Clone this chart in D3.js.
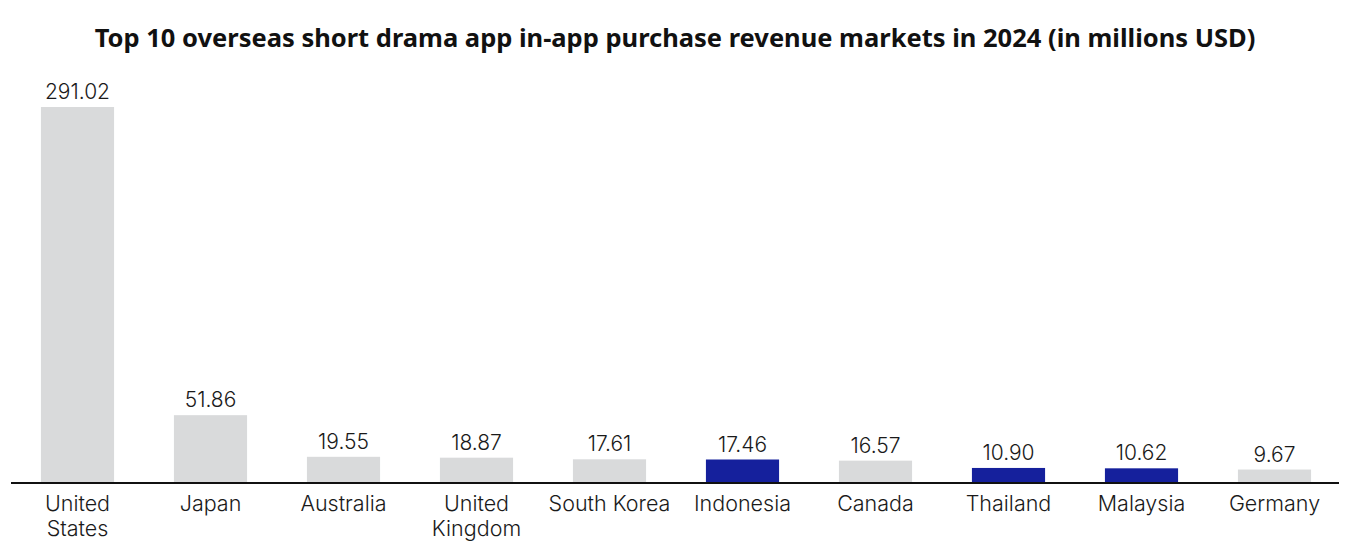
<!DOCTYPE html>
<html>
<head>
<meta charset="utf-8">
<script src="https://cdn.jsdelivr.net/npm/d3@7"></script>
<style>
  body { margin: 0; background: #fff; }
  text { font-family: "Inter", "Lato", sans-serif; }
</style>
</head>
<body>
<script>
// data
const countries = ["United States", "Japan", "Australia", "United Kingdom", "South Korea",
                   "Indonesia", "Canada", "Thailand", "Malaysia", "Germany"]
const revenue = [291.02, 51.86, 19.55, 18.87, 17.61, 17.46, 16.57, 10.90, 10.62, 9.67]
const highlighted = ["Indonesia", "Thailand", "Malaysia"]
const labelLines = {
    "United States": ["United", "States"],
    "United Kingdom": ["United", "Kingdom"]
}

const width = 1351, height = 546
const baseY = 482

const svg = d3.select("body")
    .append("svg")
        .attr("width", width)
        .attr("height", height)

svg.append("text")
    .attr("x", 675)
    .attr("y", 47)
    .attr("text-anchor", "middle")
    .style("font-family", "'Noto Sans', sans-serif")
    .style("font-weight", "bold")
    .style("font-size", "25.5px")
    .attr("fill", "#111")
    .text("Top 10 overseas short drama app in-app purchase revenue markets in 2024 (in millions USD)")

const x = d3.scaleBand()
    .domain(countries)
    .range([11, 1341])
    .paddingInner(0.45)
    .paddingOuter(0.225)

const y = d3.scaleLinear()
    .domain([0, 291.02])
    .range([baseY, 107])

const rows = countries.map((c, i) => ({ name: c, value: revenue[i] }))

svg.selectAll(".bar")
    .data(rows)
    .enter()
    .append("rect")
        .attr("class", "bar")
        .attr("x", d => x(d.name))
        .attr("y", d => y(d.value))
        .attr("width", x.bandwidth())
        .attr("height", d => baseY - y(d.value))
        .attr("fill", d => highlighted.includes(d.name) ? "#15209c" : "#d9dadb")

svg.selectAll(".val")
    .data(rows)
    .enter()
    .append("text")
        .attr("class", "val")
        .attr("x", d => x(d.name) + x.bandwidth() / 2)
        .attr("y", d => y(d.value) - 8)
        .attr("text-anchor", "middle")
        .style("font-size", "21px")
        .style("font-weight", 300)
        .attr("fill", "#1a1a1a")
        .text(d => d.value.toFixed(2))

// axis line
svg.append("line")
    .attr("x1", 11)
    .attr("x2", 1339)
    .attr("y1", baseY + 1)
    .attr("y2", baseY + 1)
    .attr("stroke", "#111")
    .attr("stroke-width", 2)

const cat = svg.selectAll(".cat")
    .data(rows)
    .enter()
    .append("text")
        .attr("class", "cat")
        .attr("x", d => x(d.name) + x.bandwidth() / 2)
        .attr("y", 511)
        .attr("text-anchor", "middle")
        .style("font-size", "21.5px")
        .style("font-weight", 300)
        .attr("fill", "#1a1a1a")

cat.selectAll("tspan")
    .data(d => labelLines[d.name] || [d.name])
    .enter()
    .append("tspan")
        .attr("x", function() { return d3.select(this.parentNode).attr("x") })
        .attr("dy", (d, i) => i === 0 ? 0 : 25)
        .text(d => d)
</script>
</body>
</html>
